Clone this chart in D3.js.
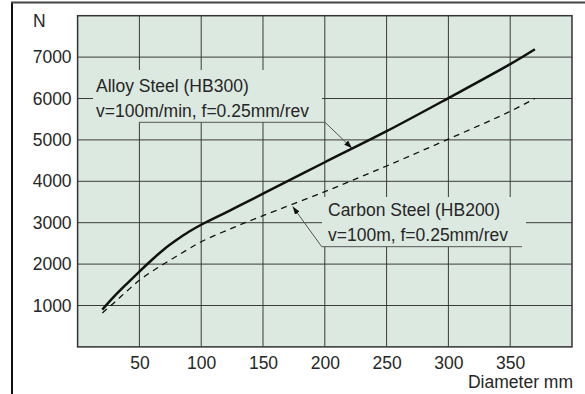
<!DOCTYPE html>
<html>
<head>
<meta charset="utf-8">
<script src="https://cdn.jsdelivr.net/npm/d3@7"></script>
<style>
  html, body { margin: 0; padding: 0; background: #fff; }
  svg { display: block; }
  text { font-family: "Liberation Sans", Arial, sans-serif; fill: #262626; }
</style>
</head>
<body>
<svg id="chart" width="585" height="394"></svg>
<script>
// Cutting force vs. workpiece diameter
const diameters = [20, 30, 40, 50, 60, 70, 80, 90, 100, 125, 150, 200, 250, 300, 350, 370];
const alloyForce = [900, 1230, 1530, 1820, 2100, 2360, 2580, 2780, 2950, 3320, 3700, 4460, 5210, 6010, 6830, 7190];
const carbonForce = [820, 1080, 1350, 1610, 1820, 2010, 2190, 2370, 2540, 2870, 3170, 3750, 4370, 5020, 5690, 6000];

const xTicks = [50, 100, 150, 200, 250, 300, 350];
const yTicks = [1000, 2000, 3000, 4000, 5000, 6000, 7000];

const alloyLabel = ["Alloy Steel (HB300)", "v=100m/min, f=0.25mm/rev"];
const carbonLabel = ["Carbon Steel (HB200)", "v=100m, f=0.25mm/rev"];
// leader arrow tips, in data units (diameter, force)
const alloyTip = [222, 4800];
const carbonTip = [174, 3390];

const svg = d3.select("#chart");
const plot = { left: 77.6, top: 15.7, right: 572, bottom: 346.9 };
const bg = "#dce9e0";
const fontSize = 17.5;

const x = d3.scaleLinear().domain([0, 400]).range([plot.left, plot.right]);
const y = d3.scaleLinear().domain([0, 8000]).range([plot.bottom, plot.top]);

// outer frame (left and top edges)
svg.append("line").attr("x1", 12).attr("x2", 12).attr("y1", 2).attr("y2", 394)
  .attr("stroke", "#111").attr("stroke-width", 2);
svg.append("line").attr("x1", 11).attr("x2", 585).attr("y1", 2.5).attr("y2", 2.5)
  .attr("stroke", "#444").attr("stroke-width", 2);

// plot background
svg.append("rect").attr("x", plot.left).attr("y", plot.top)
  .attr("width", plot.right - plot.left).attr("height", plot.bottom - plot.top)
  .attr("fill", bg);

// grid
const grid = svg.append("g").attr("stroke", "#3a3a3a").attr("stroke-width", 1);
grid.selectAll(".gx").data(xTicks).join("line")
  .attr("x1", d => x(d)).attr("x2", d => x(d))
  .attr("y1", plot.top).attr("y2", plot.bottom);
grid.selectAll(".gy").data(yTicks).join("line")
  .attr("x1", plot.left).attr("x2", plot.right)
  .attr("y1", d => y(d)).attr("y2", d => y(d));

// axis tick labels
const xAxis = d3.axisBottom(x).tickValues(xTicks).tickSize(0).tickPadding(10).tickFormat(d3.format("d"));
const gx = svg.append("g").attr("transform", `translate(0,${plot.bottom})`).call(xAxis);
gx.select(".domain").remove();
gx.selectAll("text").attr("font-size", fontSize).attr("font-family", "Liberation Sans, Arial, sans-serif").attr("fill", "#262626");

const yAxis = d3.axisLeft(y).tickValues(yTicks).tickSize(0).tickPadding(6).tickFormat(d3.format("d"));
const gy = svg.append("g").attr("transform", `translate(${plot.left},0)`).call(yAxis);
gy.select(".domain").remove();
gy.selectAll("text").attr("font-size", fontSize).attr("font-family", "Liberation Sans, Arial, sans-serif").attr("fill", "#262626");

svg.append("text").attr("x", 33).attr("y", 27).attr("font-size", fontSize).text("N");
svg.append("text").attr("x", 573).attr("y", 388).attr("text-anchor", "end")
  .attr("font-size", fontSize).text("Diameter mm");

// annotation boxes mask the grid behind the labels
svg.append("rect").attr("x", 93).attr("y", 70).attr("width", 229).attr("height", 52).attr("fill", bg);
svg.append("rect").attr("x", 322).attr("y", 197).attr("width", 204).attr("height", 49.5).attr("fill", bg);

// plot border
svg.append("rect").attr("x", plot.left).attr("y", plot.top)
  .attr("width", plot.right - plot.left).attr("height", plot.bottom - plot.top)
  .attr("fill", "none").attr("stroke", "#333").attr("stroke-width", 1.5);

// curves
const line = d3.line().x(d => x(d[0])).y(d => y(d[1])).curve(d3.curveCatmullRom.alpha(0.5));
svg.append("path").datum(diameters.map((d, i) => [d, carbonForce[i]]))
  .attr("d", line).attr("fill", "none").attr("stroke", "#111")
  .attr("stroke-width", 1.3).attr("stroke-dasharray", "6,5");
svg.append("path").datum(diameters.map((d, i) => [d, alloyForce[i]]))
  .attr("d", line).attr("fill", "none").attr("stroke", "#111")
  .attr("stroke-width", 2.5);

// labels
function label(lines, x0, y0) {
  const t = svg.append("text").attr("font-size", fontSize);
  lines.forEach((s, i) => t.append("tspan").attr("x", x0).attr("y", y0 + i * 25).text(s));
}
label(alloyLabel, 96, 92);
label(carbonLabel, 328, 216);

// leader lines with arrowheads
svg.append("defs").append("marker").attr("id", "arr")
  .attr("viewBox", "0 0 10 10").attr("refX", 10).attr("refY", 5)
  .attr("markerWidth", 8).attr("markerHeight", 8).attr("orient", "auto")
  .attr("markerUnits", "userSpaceOnUse")
  .append("path").attr("d", "M0,1.5 L10,5 L0,8.5 Z").attr("fill", "#111");

svg.append("polyline")
  .attr("points", `139,122.3 325,122.3 ${x(alloyTip[0])},${y(alloyTip[1])}`)
  .attr("fill", "none").attr("stroke", "#555").attr("stroke-width", 1)
  .attr("marker-end", "url(#arr)");
svg.append("polyline")
  .attr("points", `522,246.7 321.7,246.7 ${x(carbonTip[0])},${y(carbonTip[1])}`)
  .attr("fill", "none").attr("stroke", "#555").attr("stroke-width", 1)
  .attr("marker-end", "url(#arr)");
</script>
</body>
</html>
